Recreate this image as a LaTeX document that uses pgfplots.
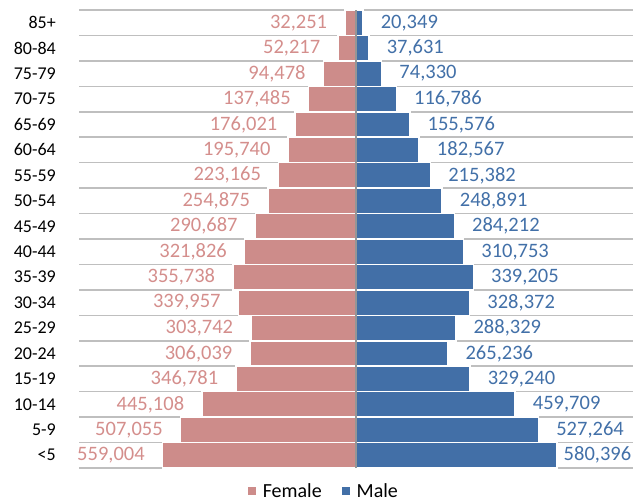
\documentclass[border=0pt]{standalone}
\usepackage{fontspec}
\setmainfont{Carlito}
\usepackage{pgfplots}
\usepackage{pgfplotstable}
\pgfplotsset{compat=1.18}
\definecolor{fem}{RGB}{205,140,138}
\definecolor{femlab}{RGB}{212,142,140}
\definecolor{mal}{RGB}{66,111,167}
\definecolor{mallab}{RGB}{66,112,168}
\definecolor{gridc}{RGB}{191,191,191}
\definecolor{axc}{RGB}{150,150,150}

\pgfplotstableread{
y f m fl ml sh
0 -559004 580396 559,004 580,396 6
1 -507055 527264 507,055 527,264 17
2 -445108 459709 445,108 459,709 17
3 -346781 329240 346,781 329,240 17
4 -306039 265236 306,039 265,236 17
5 -303742 288329 303,742 288,329 17
6 -339957 328372 339,957 328,372 17
7 -355738 339205 355,738 339,205 17
8 -321826 310753 321,826 310,753 17
9 -290687 284212 290,687 284,212 17
10 -254875 248891 254,875 248,891 17
11 -223165 215382 223,165 215,382 17
12 -195740 182567 195,740 182,567 17
13 -176021 155576 176,021 155,576 17
14 -137485 116786 137,485 116,786 17
15 -94478 74330 94,478 74,330 17
16 -52217 37631 52,217 37,631 17
17 -32251 20349 32,251 20,349 17
}\data

\begin{document}
\begin{tikzpicture}[x=1pt,y=1pt]
\useasboundingbox (0,0) rectangle (639,501);
\begin{axis}[
  at={(79pt,33pt)}, anchor=south west,
  scale only axis, width=554pt, height=458pt,
  xmin=-800000, xmax=800000, ymin=-0.5, ymax=17.5,
  enlargelimits=false,
  xbar, bar width=1, bar shift=0pt,
  xtick=\empty,
  ytick={0,...,17},
  yticklabels={{<5},{5-9},{10-14},{15-19},{20-24},{25-29},{30-34},{35-39},{40-44},{45-49},{50-54},{55-59},{60-64},{65-69},{70-75},{75-79},{80-84},{85+}},
  minor ytick={-0.5,0.5,1.5,2.5,3.5,4.5,5.5,6.5,7.5,8.5,9.5,10.5,11.5,12.5,13.5,14.5,15.5,16.5,17.5},
  yminorgrids, minor grid style={gridc, line width=1.6pt},
  axis line style={draw=none},
  major tick length=0pt, minor tick length=0pt,
  tick style={draw=none},
  yticklabel style={font=\fontsize{18}{20}\selectfont, inner sep=0pt, xshift=-23pt, text=black},
  legend style={at={(0.442,0)}, anchor=north, yshift=-11pt, draw=none, fill=none,
    legend columns=2, font=\fontsize{20}{24}\selectfont,
    /tikz/every odd column/.append style={column sep=5pt},
    /tikz/every even column/.append style={column sep=18pt}},
  legend image code/.code={\path[#1, draw=none] (0pt,-4pt) rectangle (8pt,4pt);},
]
\addplot[fill=fem, draw=white, line width=1.5pt,
  point meta=explicit symbolic, nodes near coords,
  every node near coord/.append style={anchor=east, inner sep=0pt, xshift=-17pt, text=femlab, font=\fontsize{20.5}{24}\selectfont}]
  table[x=f, y=y, meta=fl] {\data};
\addlegendentry{Female}
\addplot[fill=mal, draw=white, line width=1.5pt,
  point meta=explicit symbolic, nodes near coords,
  visualization depends on={\thisrow{sh} \as \lshift},
  every node near coord/.append style={anchor=west, inner sep=0pt, xshift=\lshift pt, text=mallab, font=\fontsize{20.5}{24}\selectfont}]
  table[x=m, y=y, meta=ml] {\data};
\addlegendentry{Male}
\draw[axc, line width=1.5pt] (axis cs:0,-0.5) -- (axis cs:0,17.5);
\end{axis}
\end{tikzpicture}
\end{document}
